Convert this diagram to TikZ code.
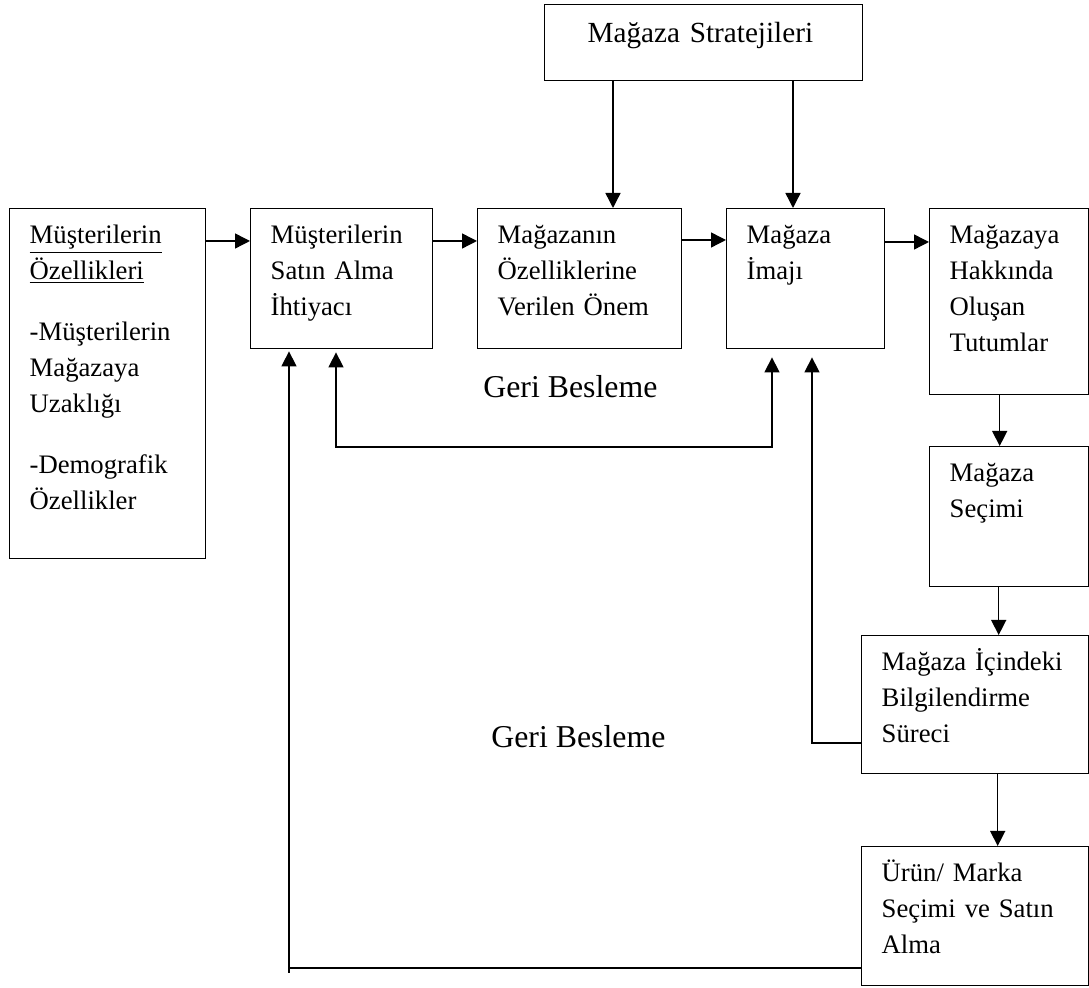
\documentclass[tikz,border=0pt]{standalone}
\usepackage{fontspec}
\setmainfont{Liberation Serif}
\usetikzlibrary{arrows.meta}

\tikzset{
	box/.style={draw, line width=0.7pt, anchor=north west, align=left,
		inner xsep=10pt, inner ysep=4.9pt, text height=12.6pt,
		font=\fontsize{13.35pt}{18pt}\selectfont},
	fbtext/.style={anchor=base west, inner sep=0pt, font=\fontsize{15.9pt}{19pt}\selectfont},
	arr/.style={line width=0.7pt, -{Triangle[length=7.5pt,width=7.5pt]}},
	arrboth/.style={line width=0.7pt, {Triangle[length=7.5pt,width=7.5pt]}-{Triangle[length=7.5pt,width=7.5pt]}},
}

\begin{document}
\begin{tikzpicture}[x=0.5pt, y=-0.5pt]
	\useasboundingbox (0,0) rectangle (1089,988);
	% Boxes
	\node[box, inner xsep=21.5pt, text width=116pt, text height=14.1pt, text depth=14.1pt,
		font=\fontsize{14.6pt}{19pt}\selectfont] (strat) at (544,4) {Mağaza Stratejileri};
	\node[box, text width=78pt, text depth=152.6pt] (cust) at (9,208) {\underline{Müşterilerin}\\ \underline{Özellikleri}\\[12.5pt] -Müşterilerin\\ Mağazaya\\ Uzaklığı\\[12.5pt] -Demografik\\ Özellikler};
	\node[box, text width=71pt, text depth=47.6pt] (need) at (250,208) {Müşterilerin\\ Satın Alma\\ İhtiyacı};
	\node[box, text width=82pt, text depth=47.6pt] (imp) at (477,208) {Mağazanın\\ Özelliklerine\\ Verilen Önem};
	\node[box, text width=59pt, text depth=47.6pt] (img) at (726,208) {Mağaza\\ İmajı};
	\node[box, text width=59.5pt, text depth=70.6pt] (att) at (929,208) {Mağazaya\\ Hakkında\\ Oluşan\\ Tutumlar};
	\node[box, text width=59.5pt, text depth=47.6pt] (sel) at (929,446) {Mağaza\\ Seçimi};
	\node[box, text width=93.5pt, text depth=46.6pt] (info) at (861,635) {Mağaza İçindeki\\ Bilgilendirme\\ Süreci};
	\node[box, text width=93.5pt, text depth=47.1pt] (buy) at (861,846) {Ürün/ Marka\\ Seçimi ve Satın\\ Alma};
	% Labels
	\node[fbtext] (gb1) at (483,398) {Geri Besleme};
	\node[fbtext] (gb2) at (491,748) {Geri Besleme};
	% Main flow
	\draw[arr] ([yshift=-16.5pt]cust.north east) -- ([yshift=-16.5pt]need.north west);
	\draw[arr] ([yshift=-16.5pt]need.north east) -- ([yshift=-16.5pt]imp.north west);
	\draw[arr] ([yshift=-16pt]imp.north east) -- ([yshift=-16pt]img.north west);
	\draw[arr] ([yshift=-17pt]img.north east) -- ([yshift=-17pt]att.north west);
	\draw[arr] ([xshift=34.5pt]strat.south west) -- ([xshift=34.5pt]strat.south west |- imp.north);
	\draw[arr] ([xshift=124.5pt]strat.south west) -- ([xshift=124.5pt]strat.south west |- img.north);
	\draw[arr] ([xshift=-4.75pt]att.south) -- ([xshift=-4.75pt]att.south |- sel.north);
	\draw[arr] ([xshift=-5.25pt]sel.south) -- ([xshift=-5.25pt]sel.south |- info.north);
	\draw[arr] ([xshift=11.25pt]info.south) -- ([xshift=11.25pt]info.south |- buy.north);
	% Feedback
	\coordinate (fbmid) at (550,447);
	\coordinate (fbcorner) at (289,968);
	\draw[arrboth, shorten <=1.5pt, shorten >=4pt] ([xshift=43pt]need.south west) |- (fbmid) -| ([xshift=23pt]img.south west);
	\draw[arr, shorten >=4pt] ([yshift=-54pt]info.north west) -| ([xshift=43pt]img.south west);
	\draw[arr, shorten >=1pt] (buy.west |- fbcorner) -- (fbcorner) ([yshift=-2.5pt]fbcorner) -- (fbcorner |- need.south);
\end{tikzpicture}
\end{document}
